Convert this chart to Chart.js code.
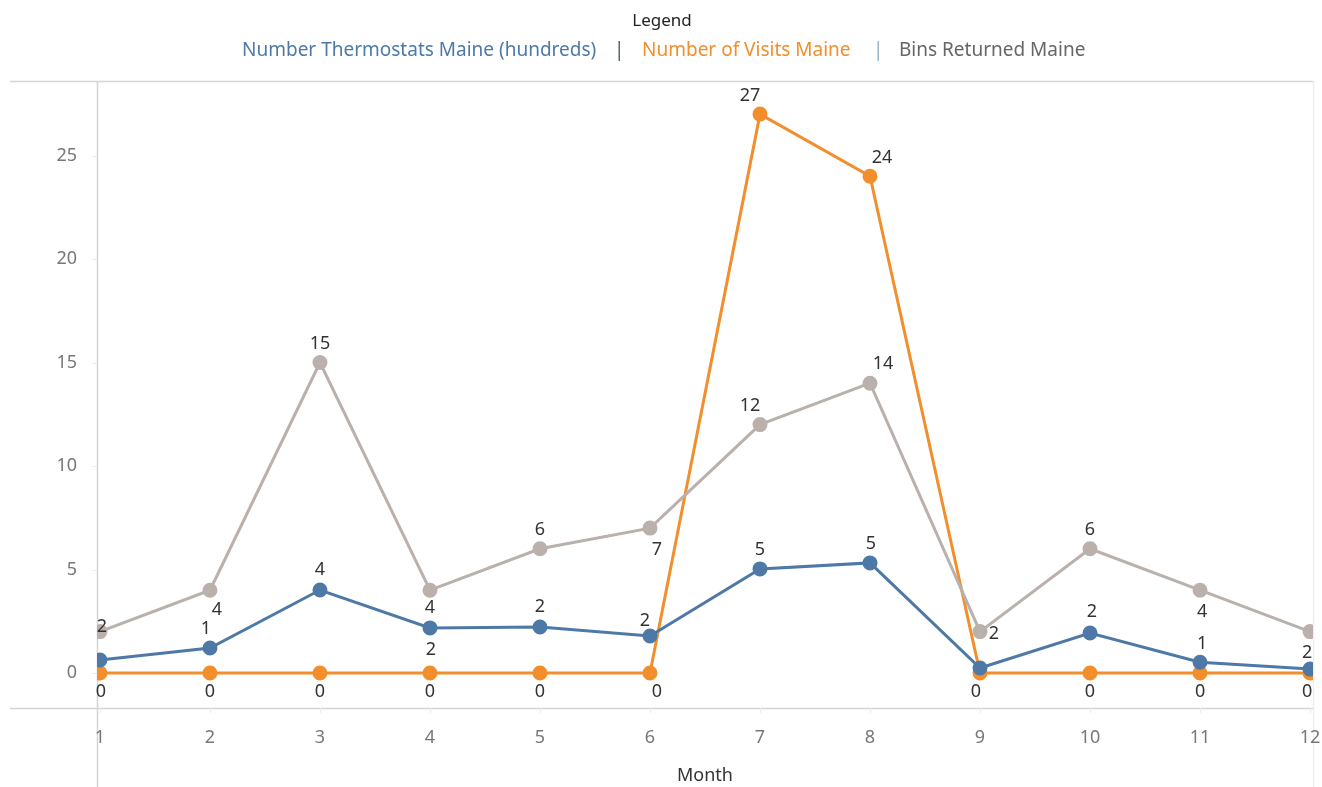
<!DOCTYPE html>
<html>
<head>
<meta charset="utf-8">
<script src="https://cdn.jsdelivr.net/npm/chart.js@4.4.1/dist/chart.umd.min.js"></script>
<style>
  html, body { margin: 0; padding: 0; background: #fff; }
  #wrap { position: relative; width: 1322px; height: 787px; overflow: hidden; }
  #chart { position: absolute; left: 0; top: 0; }
  .lg { position: absolute; font-family: "Noto Sans", sans-serif; font-size: 19px; white-space: nowrap; line-height: 24px; }
</style>
</head>
<body>
<div id="wrap">
  <canvas id="chart" width="1322" height="787"></canvas>
  <div class="lg" style="left:0;width:1324px;text-align:center;top:8px;color:#222;font-size:17px;">Legend</div>
  <div class="lg" style="left:242px;top:37px;color:#4e79a7;">Number Thermostats Maine (hundreds)</div>
  <div class="lg" style="left:614px;top:37px;color:#4a5a70;">|</div>
  <div class="lg" style="left:642px;top:37px;color:#f28e2b;">Number of Visits Maine</div>
  <div class="lg" style="left:873px;top:37px;color:#8fb3d4;">|</div>
  <div class="lg" style="left:899px;top:37px;color:#666;">Bins Returned Maine</div>
</div>
<script>
// data
const months = [1, 2, 3, 4, 5, 6, 7, 8, 9, 10, 11, 12];
const thermostats = [0.63, 1.21, 4.01, 2.18, 2.22, 1.79, 5.03, 5.32, 0.24, 1.93, 0.52, 0.19];
const visits = [0, 0, 0, 0, 0, 0, 27, 24, 0, 0, 0, 0];
const bins = [2, 4, 15, 4, 6, 7, 12, 14, 2, 6, 4, 2];
const yTicks = [0, 5, 10, 15, 20, 25];

// label placement (pixel offset from the point), null = label hidden
const thermoLabelPos = [null, [-4, -19], [0, -20], [1, 22], [0, -20], [-5, -15], [0, -19], [1, -19], null, [2, -21], [2, -18], null];
const visitsLabelPos = [[1, 19], [0, 19], [0, 19], [0, 19], [0, 19], [7, 19], [-10, -18], [12, -18], [-4, 19], [0, 19], [0, 19], [-3, 19]];
const binsLabelPos = [[2, -5], [7, 20], [0, -19], [0, 18], [0, -19], [7, 22], [-10, -19], [13, -19], [14, 2], [0, -19], [2, 22], [-3, 21]];

const blue = '#4e79a7', orange = '#f28e2b', grey = '#bab0ac';
const font = '"Noto Sans", sans-serif';

function pts(vals) {
    return months.map((m, i) => ({ x: m, y: vals[i] }));
}

const frame = {
    id: 'frame',
    beforeDraw(chart) {
        const c = chart.ctx, a = chart.chartArea;
        c.save();
        c.strokeStyle = '#d4d4d4';
        c.lineWidth = 1.5;
        c.beginPath();
        c.moveTo(10, a.top + 0.5); c.lineTo(a.right, a.top + 0.5);
        c.moveTo(10, a.bottom + 0.5); c.lineTo(a.right, a.bottom + 0.5);
        c.moveTo(a.left + 0.5, a.top); c.lineTo(a.left + 0.5, chart.height);
        c.stroke();
        c.strokeStyle = '#eeeeee';
        c.beginPath();
        c.moveTo(a.right + 0.5, a.top); c.lineTo(a.right + 0.5, chart.height);
        c.stroke();
        // small tick marks
        c.strokeStyle = '#ececec';
        c.lineWidth = 1;
        c.beginPath();
        const ys = chart.scales.y, xs = chart.scales.x;
        yTicks.forEach(v => { const y = Math.round(ys.getPixelForValue(v)) + 0.5; c.moveTo(a.left - 5, y); c.lineTo(a.left, y); });
        months.forEach(m => { const x = Math.round(xs.getPixelForValue(m)) + 0.5; c.moveTo(x, a.bottom); c.lineTo(x, a.bottom + 5); });
        c.stroke();
        c.restore();
    }
};

const pointLabels = {
    id: 'pointLabels',
    afterDatasetsDraw(chart) {
        const c = chart.ctx;
        c.save();
        c.font = '18px ' + font;
        c.fillStyle = '#333';
        c.textAlign = 'center';
        c.textBaseline = 'middle';
        chart.data.datasets.forEach((ds, di) => {
            const meta = chart.getDatasetMeta(di);
            meta.data.forEach((el, i) => {
                const off = ds.labelPos[i];
                if (!off) return;
                c.fillText(String(Math.round(ds.data[i].y)), el.x + off[0], el.y + off[1]);
            });
        });
        c.restore();
    }
};

new Chart(document.getElementById('chart'), {
    type: 'line',
    data: {
        datasets: [
            {
                label: 'Bins Returned Maine',
                data: pts(bins),
                labelPos: binsLabelPos,
                borderColor: grey,
                backgroundColor: grey,
                borderWidth: 3,
                pointRadius: 6,
                pointHoverRadius: 6,
                tension: 0
            },
            {
                label: 'Number Thermostats Maine (hundreds)',
                data: pts(thermostats),
                labelPos: thermoLabelPos,
                borderColor: blue,
                backgroundColor: blue,
                borderWidth: 3,
                pointRadius: 6,
                pointHoverRadius: 6,
                tension: 0
            },
            {
                label: 'Number of Visits Maine',
                data: pts(visits),
                labelPos: visitsLabelPos,
                borderColor: orange,
                backgroundColor: orange,
                borderWidth: 3,
                pointRadius: 6,
                pointHoverRadius: 6,
                tension: 0
            }
        ]
    },
    options: {
        responsive: false,
        animation: false,
        layout: { padding: { top: 81, right: 9, left: 0, bottom: 0 } },
        plugins: {
            legend: { display: false },
            tooltip: { enabled: false }
        },
        scales: {
            x: {
                type: 'linear',
                min: 0.973,
                max: 12.027,
                grid: { display: false },
                border: { display: false },
                afterBuildTicks: s => { s.ticks = months.map(v => ({ value: v })); },
                afterFit: s => { s.height = 79; s.paddingLeft = 0; s.paddingRight = 0; },
                ticks: {
                    color: '#777',
                    font: { family: font, size: 18 },
                    padding: 11,
                    maxRotation: 0,
                    autoSkip: false
                },
                title: {
                    display: true,
                    text: 'Month',
                    color: '#333',
                    font: { family: font, size: 18 },
                    padding: { top: 8, bottom: 0 }
                }
            },
            y: {
                min: -1.69,
                max: 28.6,
                grid: { display: false },
                border: { display: false },
                afterBuildTicks: s => { s.ticks = yTicks.map(v => ({ value: v })); },
                afterFit: s => { s.width = 97; s.paddingTop = 0; s.paddingBottom = 0; },
                ticks: {
                    color: '#777',
                    font: { family: font, size: 18 },
                    padding: 12
                }
            }
        }
    },
    plugins: [frame, pointLabels]
});
</script>
</body>
</html>
